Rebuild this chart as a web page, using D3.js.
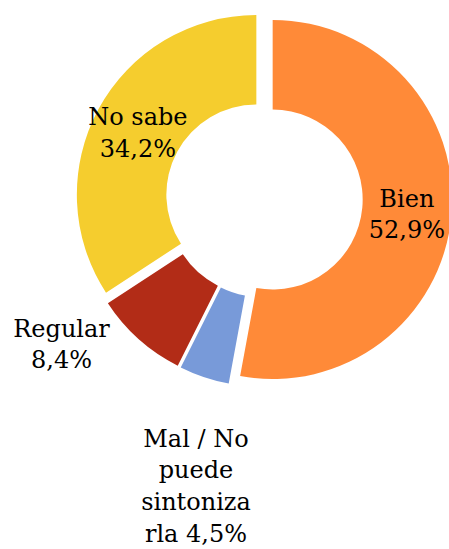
<!DOCTYPE html>
<html>
<head>
<meta charset="utf-8">
<script src="https://cdn.jsdelivr.net/npm/d3@7"></script>
<style>
  html, body { margin: 0; padding: 0; background: #ffffff; }
  svg { display: block; }
</style>
</head>
<body>
<svg id="chart" width="449" height="549"></svg>
<script>
// ---- data ----
const categories = ["Bien", "Mal / No puede sintonizarla", "Regular", "No sabe"];
const values = [52.9, 4.5, 8.4, 34.2];
const valueLabels = ["52,9%", "4,5%", "8,4%", "34,2%"];
const colors = ["#FF8A38", "#789AD9", "#B22C17", "#F5CD2E"];

// ---- layout ----
const W = 449, H = 549;
const cx = 264, cy = 198.7;
const outerR = 179.5, innerR = 90;
const explode = 8.7;
const fontSize = 24, lineH = 31.7, baseShift = 10.8;
const wrapWidth = 115;
// outside label placement for small slices (angle offset in degrees, distance from centre)
const outsideLabels = {
  "Regular": { dAngle: 13.0, dist: 247.9 },
  "Mal / No puede sintonizarla": { dAngle: -5.1, dist: 292.8 }
};

const svg = d3.select("#chart");
const g = svg.append("g").attr("transform", `translate(${cx},${cy})`);

const data = categories.map((c, i) => ({ name: c, value: values[i], label: valueLabels[i], color: colors[i] }));

const pie = d3.pie().sort(null).value(d => d.value).startAngle(0).endAngle(2 * Math.PI);
const arcs = pie(data);
const arc = d3.arc().innerRadius(innerR).outerRadius(outerR);

function offsetOf(a) {
  const mid = (a.startAngle + a.endAngle) / 2;
  return [explode * Math.sin(mid), -explode * Math.cos(mid)];
}

g.selectAll("path.slice")
  .data(arcs)
  .join("path")
  .attr("class", "slice")
  .attr("d", arc)
  .attr("fill", d => d.data.color)
  .attr("transform", d => { const o = offsetOf(d); return `translate(${o[0]},${o[1]})`; });

// ---- labels ----
const measurer = svg.append("text")
  .attr("font-family", "DejaVu Serif")
  .attr("font-size", fontSize)
  .attr("visibility", "hidden");
function textWidth(s) { measurer.text(s); return measurer.node().getComputedTextLength(); }

function wrap(text, maxW) {
  const words = text.split(" ");
  const lines = [];
  let cur = "";
  words.forEach(w => {
    const trial = cur ? cur + " " + w : w;
    if (textWidth(trial) <= maxW) { cur = trial; return; }
    if (cur) lines.push(cur);
    // break long words by characters
    let word = w;
    while (textWidth(word) > maxW) {
      let k = word.length;
      while (k > 1 && textWidth(word.slice(0, k)) > maxW) k--;
      lines.push(word.slice(0, k));
      word = word.slice(k);
    }
    cur = word;
  });
  if (cur) lines.push(cur);
  return lines;
}

arcs.forEach(a => {
  const d = a.data;
  let px, py;
  if (outsideLabels[d.name]) {
    const cfg = outsideLabels[d.name];
    const ang = (a.startAngle + a.endAngle) / 2 + cfg.dAngle * Math.PI / 180;
    px = cfg.dist * Math.sin(ang);
    py = -cfg.dist * Math.cos(ang);
  } else {
    const c = arc.centroid(a);
    const o = offsetOf(a);
    px = c[0] + o[0];
    py = c[1] + o[1];
  }
  const lines = wrap(d.name + " " + d.label, wrapWidth);
  const t = g.append("text")
    .attr("font-family", "DejaVu Serif")
    .attr("font-size", fontSize)
    .attr("fill", "#000")
    .attr("text-anchor", "middle");
  const y0 = py - (lines.length - 1) * lineH / 2 + baseShift;
  lines.forEach((ln, i) => {
    t.append("tspan").attr("x", px).attr("y", y0 + i * lineH).text(ln);
  });
});
measurer.remove();
</script>
</body>
</html>
